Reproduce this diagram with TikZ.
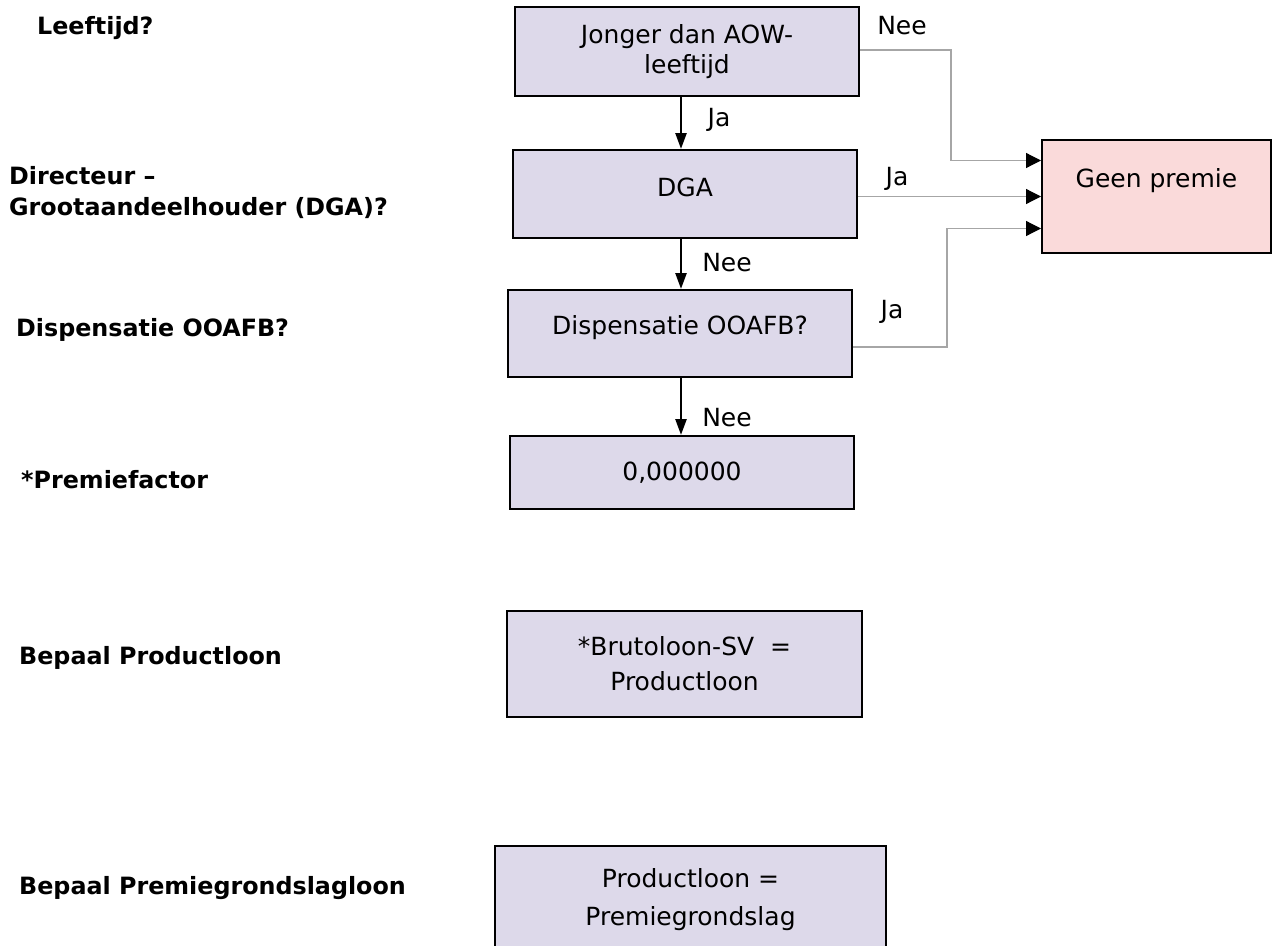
\documentclass[tikz,border=0pt]{standalone}
\usepackage{fontspec}
\setmainfont{DejaVu Sans}
\usetikzlibrary{arrows.meta}
\definecolor{boxfill}{RGB}{221,217,234}
\definecolor{nofill}{RGB}{250,218,218}
\definecolor{linkgray}{RGB}{166,166,166}

\begin{document}
\begin{tikzpicture}[x=1pt, y=-1pt,
    box/.style={draw=black, line width=2pt, fill=boxfill, minimum width=344pt, align=center, inner sep=0pt, font=\fontsize{25}{30}\selectfont},
    ask/.style={anchor=west, align=left, inner sep=0pt, font=\fontsize{23.8}{31}\selectfont\bfseries},
    tag/.style={inner sep=0pt, font=\fontsize{25}{30}\selectfont},
    flow/.style={line width=2.5pt, -{Triangle[length=16pt, width=11pt]}},
    link/.style={draw=linkgray, line width=1.2pt, -{Triangle[length=15pt, width=15pt, color=black]}}]
    \useasboundingbox (0,0) rectangle (1274,945);
    \node[ask] (qage) at (37,28) {Leeftijd?};
    \node[ask] (qdga) at (9,192.5) {Directeur –\\Grootaandeelhouder (DGA)?};
    \node[ask] (qooafb) at (16,330) {Dispensatie OOAFB?};
    \node[ask] (qfactor) at (21,480) {*Premiefactor};
    \node[ask] (qproduct) at (19,658) {Bepaal Productloon};
    \node[ask] (qgrondslag) at (19,888) {Bepaal Premiegrondslagloon};
    \node[box, minimum height=89pt] (jonger) at (687,51.5) {Jonger dan AOW-\\leeftijd};
    \node[box, minimum height=88pt, text height=18pt, text depth=14pt] (dga) at (685,194) {DGA};
    \node[box, minimum height=87pt, text height=18pt, text depth=17pt] (ooafb) at (680,333.5) {Dispensatie OOAFB?};
    \node[box, minimum height=73pt] (factor) at (682,472.5) {0,000000};
    \node[box, minimum width=355pt, minimum height=106pt, font=\fontsize{25}{35}\selectfont] (bruto) at (684.5,664) {*Brutoloon-SV~~=\\Productloon};
    \node[box, minimum width=391pt, minimum height=108pt, font=\fontsize{25}{38}\selectfont] (grondslag) at (690.5,900) {Productloon =\\Premiegrondslag};
    \node[box, fill=nofill, minimum width=229pt, minimum height=113pt, text height=18pt, text depth=36pt] (geen) at (1156.5,196.5) {Geen premie};
    \node[tag] (tnee1) at (902,26) {Nee};
    \node[tag] (tja1) at (719,120) {Ja};
    \node[tag] (tja2) at (897,179) {Ja};
    \node[tag] (tnee2) at (727,263) {Nee};
    \node[tag] (tja3) at (892,312) {Ja};
    \node[tag] (tnee3) at (727,418) {Nee};
    \coordinate (spine) at (681,0);
    \coordinate (bend1) at (951,50);
    \coordinate (bend3) at (947,347);
    \draw[flow] (jonger.south -| spine) -- (dga.north -| spine);
    \draw[flow] (dga.south -| spine) -- (ooafb.north -| spine);
    \draw[flow] (ooafb.south -| spine) -- (factor.north -| spine);
    \draw[link] (jonger.east |- bend1) -- (bend1) |- ([yshift=36pt]geen.west);
    \draw[link] (dga.east |- geen.west) -- (geen.west);
    \draw[link] (ooafb.east |- bend3) -- (bend3) |- ([yshift=-32pt]geen.west);
\end{tikzpicture}
\end{document}
